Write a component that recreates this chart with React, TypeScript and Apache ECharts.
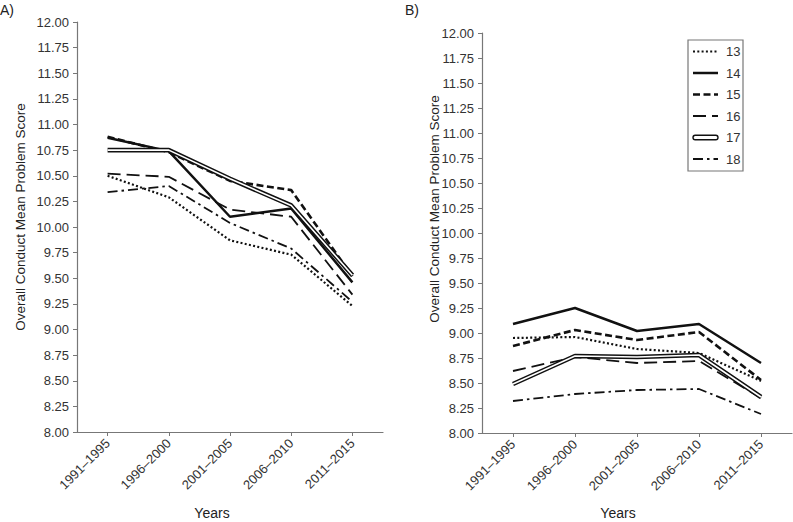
import React, { useEffect, useRef } from "react";
import * as echarts from "echarts";

const categories = ["1991–1995", "1996–2000", "2001–2005", "2006–2010", "2011–2015"];
const seriesNames = ["13", "14", "15", "16", "17", "18"];

// Panel A values
const a13 = [10.5, 10.29, 9.87, 9.73, 9.23];
const a14 = [10.87, 10.74, 10.1, 10.18, 9.46];
const a15 = [10.88, 10.73, 10.45, 10.36, 9.52];
const a16 = [10.52, 10.49, 10.17, 10.1, 9.34];
const a17 = [10.75, 10.75, 10.47, 10.21, 9.53];
const a18 = [10.34, 10.4, 10.04, 9.79, 9.27];

// Panel B values
const b13 = [8.95, 8.96, 8.84, 8.8, 8.52];
const b14 = [9.09, 9.25, 9.02, 9.09, 8.7];
const b15 = [8.87, 9.03, 8.93, 9.01, 8.53];
const b16 = [8.62, 8.76, 8.7, 8.72, 8.35];
const b17 = [8.49, 8.77, 8.76, 8.78, 8.36];
const b18 = [8.32, 8.39, 8.43, 8.44, 8.19];

const yTitle = "Overall Conduct Mean Problem Score";
const xTitle = "Years";

const FONT = "'Liberation Sans', Arial, sans-serif";
const TEXT = "#333";
const AXIS = "#777";
const LINE = "#111";

type Style = { width: number; type: any };
const styles: Record<string, Style> = {
  "13": { width: 2.2, type: [2, 2.3] },
  "14": { width: 2.5, type: "solid" },
  "15": { width: 2.6, type: [7, 3.5] },
  "16": { width: 1.8, type: [13, 6] },
  "18": { width: 1.8, type: [10, 4, 2.5, 4] },
};

function makeSeries(gi: number, data: Record<string, number[]>) {
  const out: any[] = [];
  ["13", "14", "15", "16", "18"].forEach((k) => {
    out.push({
      type: "line",
      name: k,
      xAxisIndex: gi,
      yAxisIndex: gi,
      data: data[k],
      symbol: "none",
      lineStyle: { color: LINE, width: styles[k].width, type: styles[k].type },
      z: 2,
    });
  });
  out.push({
    type: "line",
    name: "17",
    xAxisIndex: gi,
    yAxisIndex: gi,
    data: data["17"],
    symbol: "none",
    lineStyle: { color: LINE, width: 4.6 },
    z: 3,
  });
  out.push({
    type: "line",
    name: "17-inner",
    xAxisIndex: gi,
    yAxisIndex: gi,
    data: data["17"],
    symbol: "none",
    lineStyle: { color: "#fff", width: 1.6 },
    z: 4,
  });
  return out;
}

function yAxis(gi: number) {
  return {
    type: "value",
    gridIndex: gi,
    min: 8,
    max: 12,
    interval: 0.25,
    axisLine: { show: true, lineStyle: { color: AXIS, width: 1.2 } },
    axisTick: { show: true, inside: false, length: 4, lineStyle: { color: AXIS } },
    splitLine: { show: false },
    axisLabel: {
      fontFamily: FONT,
      fontSize: 13,
      color: TEXT,
      margin: 8,
      formatter: (v: number) => v.toFixed(2),
    },
  };
}

function xAxis(gi: number) {
  return {
    type: "category",
    gridIndex: gi,
    data: categories,
    boundaryGap: true,
    axisLine: { show: true, lineStyle: { color: AXIS, width: 1.2 } },
    axisTick: { show: true, alignWithLabel: true, length: 4, lineStyle: { color: AXIS } },
    axisLabel: {
      fontFamily: FONT,
      fontSize: 13,
      color: TEXT,
      rotate: 45,
      margin: 9,
      interval: 0,
    },
  };
}

function legendGraphic() {
  const x0 = 688;
  const y0 = 40;
  const children: any[] = [
    {
      type: "rect",
      shape: { x: x0, y: y0, width: 55, height: 131 },
      style: { fill: "#fff", stroke: "#777", lineWidth: 1.2 },
    },
  ];
  const rowY = [51.5, 73, 94.5, 116, 137.5, 159];
  seriesNames.forEach((k, i) => {
    const y = rowY[i];
    if (k === "17") {
      children.push({
        type: "rect",
        shape: { x: 693, y: y - 2.2, width: 25, height: 4.4, r: 2.2 },
        style: { fill: "#fff", stroke: LINE, lineWidth: 1.4 },
      });
    } else {
      const s = styles[k];
      children.push({
        type: "line",
        shape: { x1: 693, y1: y, x2: 718, y2: y },
        style: {
          stroke: LINE,
          lineWidth: s.width,
          lineDash: s.type === "solid" ? null : s.type,
        },
      });
    }
    children.push({
      type: "text",
      x: 726,
      y: y,
      style: {
        text: k,
        font: `13px ${FONT}`,
        fill: TEXT,
        verticalAlign: "middle",
      },
    });
  });
  return { type: "group", children };
}

export default function App() {
  const ref = useRef<HTMLDivElement>(null);
  useEffect(() => {
    if (!ref.current) return;
    const chart = echarts.init(ref.current, null, { renderer: "svg" });
    const dataA: Record<string, number[]> = { "13": a13, "14": a14, "15": a15, "16": a16, "17": a17, "18": a18 };
    const dataB: Record<string, number[]> = { "13": b13, "14": b14, "15": b15, "16": b16, "17": b17, "18": b18 };
    chart.setOption({
      animation: false,
      backgroundColor: "#fff",
      textStyle: { fontFamily: FONT },
      grid: [
        { left: 77, top: 22, width: 306, height: 410 },
        { left: 482, top: 33, width: 310, height: 400 },
      ],
      xAxis: [xAxis(0), xAxis(1)],
      yAxis: [yAxis(0), yAxis(1)],
      series: [...makeSeries(0, dataA), ...makeSeries(1, dataB)],
      graphic: [
        {
          type: "text",
          left: 0,
          top: 3,
          style: { text: "A)", font: `14px ${FONT}`, fill: "#222" },
        },
        {
          type: "text",
          left: 405,
          top: 3,
          style: { text: "B)", font: `14px ${FONT}`, fill: "#222" },
        },
        {
          type: "text",
          x: 20,
          y: 217,
          rotation: Math.PI / 2,
          style: {
            text: yTitle,
            font: `13.5px ${FONT}`,
            fill: "#222",
            align: "center",
            verticalAlign: "middle",
          },
        },
        {
          type: "text",
          x: 434,
          y: 209,
          rotation: Math.PI / 2,
          style: {
            text: yTitle,
            font: `13.5px ${FONT}`,
            fill: "#222",
            align: "center",
            verticalAlign: "middle",
          },
        },
        {
          type: "text",
          x: 212,
          y: 513,
          style: { text: xTitle, font: `14px ${FONT}`, fill: "#222", align: "center", verticalAlign: "middle" },
        },
        {
          type: "text",
          x: 618,
          y: 513,
          style: { text: xTitle, font: `14px ${FONT}`, fill: "#222", align: "center", verticalAlign: "middle" },
        },
        legendGraphic(),
      ],
    });
    return () => chart.dispose();
  }, []);
  return (
    <div
      ref={ref}
      style={{ position: "absolute", left: 0, top: 0, width: 793, height: 522, background: "#fff" }}
    />
  );
}
